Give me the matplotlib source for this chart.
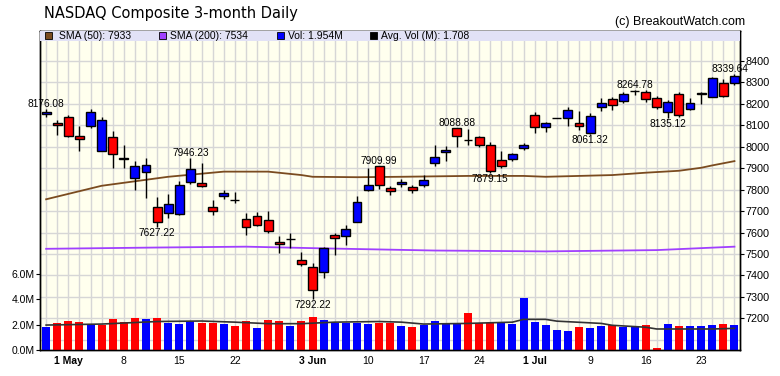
import matplotlib
matplotlib.use('Agg')
import matplotlib.pyplot as plt
from matplotlib.patches import Rectangle

plt.rcParams['font.family'] = ['Liberation Sans', 'DejaVu Sans']

# daily candles, 29 Apr .. 26 Jul (index = trading day)
opens = [8153, 8109, 8138, 8050, 8097, 7982, 8044, 7946, 7853, 7883,
         7721, 7691, 7686, 7835, 7831, 7720, 7770, 7752, 7665, 7675,
         7657, 7555, 7569, 7471, 7440, 7415, 7587, 7583, 7651, 7800,
         7908, 7806, 7826, 7810, 7820, 7923, 7977, 8088, 8033, 8044,
         8006, 7937, 7943, 7993, 8147, 8092, 8133, 8133, 8112, 8062,
         8184, 8222, 8212, 8262, 8254, 8226, 8160, 8245, 8175, 8245,
         8232, 8296, 8296]
highs = [8176.08, 8127, 8147, 8097, 8175, 8137, 8075, 8008, 7934, 7949,
         7764, 7780, 7840, 7946.23, 7926, 7751, 7800, 7788, 7690, 7697,
         7700, 7583, 7597, 7511, 7458, 7532, 7597, 7635, 7771, 7900,
         7909.99, 7817, 7851, 7820, 7867, 8008, 8005, 8088.88, 8081, 8052,
         8020, 7980, 7972, 8016, 8160, 8117, 8133, 8187, 8167, 8158,
         8229, 8233, 8257, 8264.78, 8267, 8235, 8220, 8254, 8226, 8256,
         8326, 8316, 8339.64]
lows = [8140, 8055, 8045, 7980, 8087, 7978, 7900, 7900, 7797, 7760,
        7627.22, 7668, 7680, 7826, 7810, 7680, 7755, 7737, 7590, 7632,
        7600, 7505, 7527, 7446, 7292.22, 7386, 7497, 7543, 7648, 7795,
        7802, 7773, 7814, 7783, 7814, 7910, 7932, 8000, 8010, 8000,
        7879.15, 7903, 7935, 7985, 8063, 8068, 8133, 8095, 8080, 8061.32,
        8167, 8172, 8204, 8240, 8207, 8176, 8135.12, 8140, 8170, 8200,
        8230, 8231, 8290]
closes = [8162, 8101, 8050, 8037, 8164, 8123, 7964, 7943, 7911, 7917,
          7647, 7735, 7822, 7898, 7816, 7702, 7786, 7751, 7628, 7637,
          7607, 7547, 7568, 7453, 7333, 7527, 7575, 7615, 7742, 7823,
          7822, 7793, 7837, 7797, 7845, 7954, 7987, 8051, 8032, 8006,
          7885, 7910, 7968, 8006, 8091, 8109, 8133, 8170, 8098, 8142,
          8203, 8196, 8244, 8261, 8223, 8185, 8207, 8146, 8204, 8251,
          8321, 8238, 8330]
# volume, millions
volume = [1.82, 2.13, 2.29, 2.21, 2.05, 1.97, 2.45, 2.21, 2.53, 2.45,
          2.53, 2.13, 2.05, 2.29, 2.13, 2.13, 2.05, 1.89, 2.29, 1.74,
          2.37, 2.29, 1.89, 2.29, 2.61, 2.37, 2.16, 2.16, 2.16, 2.05,
          2.16, 2.13, 1.89, 1.82, 1.95, 2.29, 2.05, 2.05, 2.92, 2.13,
          2.13, 2.16, 2.05, 4.10, 2.21, 1.97, 1.58, 1.50, 1.82, 1.74,
          1.89, 1.97, 1.82, 1.82, 1.97, 0.16, 2.05, 1.89, 1.89, 1.89,
          1.97, 2.05, 1.954]

sma50_idx = [0, 5, 11, 16, 20, 23, 24, 28, 32, 38, 43, 45, 51, 54, 57, 59, 60, 62]
sma50_val = [7755, 7818, 7860, 7884, 7884, 7868, 7860, 7858, 7860, 7864, 7864,
             7860, 7868, 7879, 7888, 7902, 7913, 7933]
sma200_idx = [0, 10, 18, 25, 35, 45, 55, 62]
sma200_val = [7524, 7530, 7534, 7526, 7516, 7512, 7518, 7534]
avgvol_idx = [0, 5, 10, 14, 17, 20, 23, 26, 30, 32, 34, 38, 42, 43, 45, 46,
              50, 51, 54, 55, 60, 62]
avgvol_val = [1.97, 2.05, 2.25, 2.29, 2.2, 2.08, 2.08, 2.2, 2.25, 2.2, 2.05,
              2.1, 2.2, 2.42, 2.42, 2.28, 2.1, 1.95, 1.8, 1.66, 1.66, 1.708]

tick_idx = [2, 7, 12, 17, 24, 29, 34, 39, 44, 49, 54, 59]
tick_lab = ['1 May', '8', '15', '22', '3 Jun', '10', '17', '24', '1 Jul', '9', '16', '23']
month_lab = ['1 May', '3 Jun', '1 Jul']

hi_marks = [0, 13, 30, 37, 53, 62]
lo_marks = [10, 24, 40, 49, 56]

UP = '#0000ff'
DN = '#ff0000'
BROWN = '#7a4b1f'
PURPLE = '#a040ff'

fig = plt.figure(figsize=(7.8, 3.76), dpi=100)
ax = fig.add_axes([40/780, 26/376, 700/780, 319/376])
ax.set_facecolor('#ffffee')
ax2 = ax.twinx()

n = len(closes)
x = list(range(n))

# grid
ax.set_axisbelow(True)
ax.set_xticks(x, minor=True)
ax.set_xticks(tick_idx)
ax.set_xticklabels(tick_lab)
ax.grid(which='both', axis='x', color='#d6d6d6', lw=1)
ax.set_yticks(range(7200, 8500, 100))
ax.grid(which='major', axis='y', color='#d6d6d6', lw=1)
ax.axhline(7100, color='#d6d6d6', lw=1, zorder=0.5)

# candles
for i in x:
    o, h, l, c = opens[i], highs[i], lows[i], closes[i]
    ax.vlines(i, l, h, color='black', lw=1, zorder=2)
    col = UP if c >= o else DN
    ax.bar(i, abs(c - o), bottom=min(o, c), width=0.8, color=col,
           edgecolor='black', lw=1, zorder=3)

ax.plot(sma50_idx, sma50_val, color=BROWN, lw=1.3, zorder=1.5)
ax.plot(sma200_idx, sma200_val, color=PURPLE, lw=1.3, zorder=1.5)

for i in hi_marks:
    dx = -3 if i == n - 1 else 0
    ax.annotate(f'{highs[i]:.2f}', (i, highs[i]), xytext=(dx, 0), textcoords='offset points',
                ha='center', va='bottom', fontsize=7.3, annotation_clip=False, zorder=6)
for i in lo_marks:
    ax.annotate(f'{lows[i]:.2f}', (i, lows[i]), xytext=(0, -1), textcoords='offset points',
                ha='center', va='top', fontsize=7.3, annotation_clip=False, zorder=6)

ax.set_xlim(-0.55, 62.5)
ax.set_ylim(7052, 8540)
ax.yaxis.tick_right()
ax.tick_params(axis='y', labelsize=7.8, length=3, pad=1)
ax.tick_params(axis='x', which='both', length=0, labelsize=7.5, pad=4)
for t in ax.get_xticklabels():
    if t.get_text() in month_lab:
        t.set_fontweight('bold')

# volume
vcol = [UP] + [UP if closes[i] >= closes[i - 1] else DN for i in range(1, n)]
ax2.bar(x, volume, width=0.72, color=vcol, zorder=2)
ax2.plot(avgvol_idx, avgvol_val, color='#333333', lw=1.2, zorder=3)
ax2.set_ylim(0, 25.2)
ax2.yaxis.tick_left()
ax2.set_yticks([0, 2, 4, 6])
ax2.set_yticklabels([f'{v:.1f}M' for v in [0, 2, 4, 6]])
ax2.tick_params(axis='y', labelsize=7.5, length=3, pad=1)

for a in (ax, ax2):
    for s in a.spines.values():
        s.set_color('black')
        s.set_linewidth(1)

# legend band
y0 = (350 - 40.7) / 319
ax2.add_patch(Rectangle((0, y0), 1, 1 - y0, transform=ax2.transAxes,
                        facecolor='#e2e2f6', edgecolor='none', zorder=5, clip_on=False))
leg = [(BROWN, f'SMA (50): {sma50_val[-1]}', 45, 59),
       (PURPLE, f'SMA (200): {sma200_val[-1]}', 159, 170),
       (UP, f'Vol: {volume[-1]:.3f}M', 277, 288),
       ('black', f'Avg. Vol (M): {avgvol_val[-1]:.3f}', 370, 381)]
yc = (350 - 35.7) / 319
for col, txt, px, tx in leg:
    ax2.add_patch(Rectangle(((px - 40) / 700, yc - 3.5 / 319), 7 / 700, 7 / 319,
                            transform=ax2.transAxes, facecolor=col, edgecolor='black',
                            lw=0.6, zorder=6, clip_on=False))
    ax2.text((tx - 40) / 700, yc, txt, transform=ax2.transAxes, fontsize=7.5,
             va='center', ha='left', zorder=6)

fig.text(44/780, 1 - 13.5/376, 'NASDAQ Composite 3-month Daily', fontsize=10.5,
         family='DejaVu Sans', va='center', ha='left')
fig.text(745/780, 1 - 22.5/376, '(c) BreakoutWatch.com', fontsize=9,
         va='center', ha='right')

fig.savefig('out.png', dpi=100)
